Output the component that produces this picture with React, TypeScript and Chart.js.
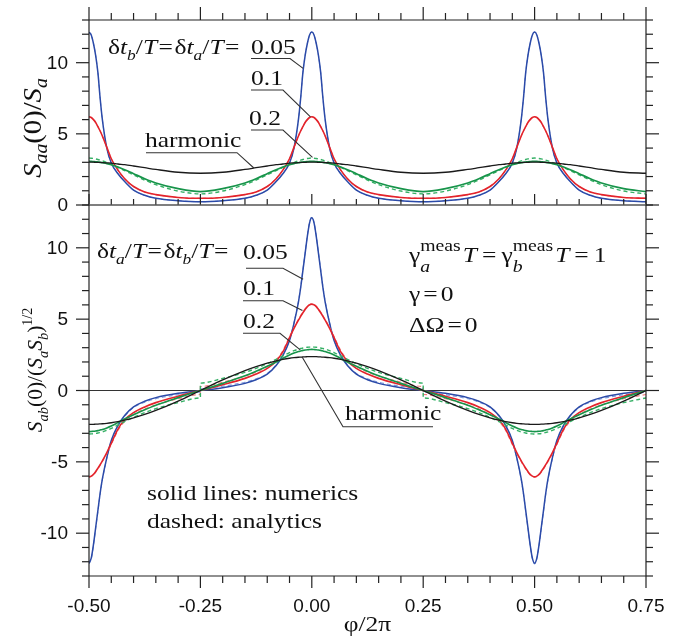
import React, { useEffect, useRef } from "react";
import { Chart, registerables } from "chart.js";
Chart.register(...registerables);

// distance from the nearest peak (in φ/2π) at which each profile was read
const D = [0, 0.005, 0.01, 0.015, 0.02, 0.025, 0.03, 0.04, 0.05, 0.065, 0.08, 0.1, 0.125, 0.15, 0.2, 0.25];

// top panel S_aa(0)/S_a : profile vs distance from a peak (peaks at -0.5, 0, 0.5)
const TOP_BLUE = [12.15, 11.95, 11.35, 10.5, 9.3, 7.5, 6.0, 4.0, 2.95, 2.2, 1.65, 1.05, 0.68, 0.47, 0.3, 0.23];
const TOP_RED = [6.2, 6.15, 6.0, 5.8, 5.5, 5.2, 4.85, 4.05, 3.25, 2.45, 1.85, 1.3, 0.92, 0.73, 0.53, 0.47];
const TOP_GREEN = [3.06, 3.06, 3.05, 3.04, 3.02, 3.0, 2.97, 2.91, 2.83, 2.67, 2.48, 2.2, 1.85, 1.55, 1.15, 0.94];
const TOP_GREEN_DASH = [3.3, 3.29, 3.27, 3.24, 3.2, 3.15, 3.1, 2.98, 2.85, 2.64, 2.42, 2.12, 1.75, 1.43, 0.98, 0.78];
const TOP_HARM = [3.01, 3.01, 3.01, 3.0, 3.0, 2.99, 2.98, 2.96, 2.94, 2.88, 2.83, 2.74, 2.62, 2.5, 2.3, 2.23];

// bottom panel S_ab(0)/(S_a S_b)^1/2 : profile vs distance from the peak at 0 (sign flips past ±0.25)
const BOT_BLUE = [12.1, 11.75, 10.8, 9.6, 8.4, 7.2, 6.2, 4.7, 3.5, 2.45, 1.75, 1.15, 0.75, 0.5, 0.2, 0];
const BOT_BLUE_DASH = [12.15, 11.8, 10.85, 9.65, 8.45, 7.25, 6.25, 4.75, 3.55, 2.5, 1.8, 1.2, 0.82, 0.58, 0.3, 0.12];
const BOT_RED = [6.05, 6.0, 5.88, 5.68, 5.45, 5.2, 4.93, 4.35, 3.7, 2.7, 2.05, 1.55, 1.15, 0.85, 0.4, 0];
const BOT_RED_DASH = [6.08, 6.03, 5.91, 5.72, 5.5, 5.25, 4.98, 4.42, 3.78, 2.8, 2.15, 1.68, 1.3, 1.02, 0.58, 0.28];
const BOT_GREEN = [2.88, 2.87, 2.86, 2.84, 2.81, 2.77, 2.73, 2.62, 2.49, 2.25, 2.0, 1.7, 1.35, 1.03, 0.5, 0];
const BOT_GREEN_DASH = [3.05, 3.04, 3.03, 3.01, 2.98, 2.94, 2.9, 2.79, 2.66, 2.42, 2.18, 1.88, 1.55, 1.27, 0.85, 0.52];
const BOT_HARM = [2.38, 2.38, 2.37, 2.36, 2.35, 2.34, 2.33, 2.3, 2.26, 2.18, 2.08, 1.92, 1.68, 1.4, 0.74, 0];

// axes
const X_MIN = -0.5;
const X_MAX = 0.75;
const X_MAJOR = [-0.5, -0.25, 0, 0.25, 0.5, 0.75];
const X_LABELS = ["-0.50", "-0.25", "0.00", "0.25", "0.50", "0.75"];
const X_MINOR_STEP = 0.05;
const TOP_RANGE = [0, 13];
const TOP_MAJOR = [0, 5, 10];
const TOP_LABELS = ["0", "5", "10"];
const BOT_RANGE = [-13, 13];
const BOT_MAJOR = [-10, -5, 0, 5, 10];
const BOT_LABELS = ["-10", "-5", "0", "5", "10"];

const BLUE = "#2b4aa8";
const BLUE_D = "#7d98dc";
const RED = "#e3232b";
const RED_D = "#f47c7c";
const GREEN = "#17944a";
const GREEN_D = "#35b065";
const BLACK = "#1a1a1a";
const FRAME = "#222";
const SERIF = '"Liberation Serif","Times New Roman",serif';
const SANS = '"Liberation Sans",Arial,sans-serif';
const BASE = 22;
const SX = 1.16;

function evenSeries(P: number[]) {
  const n = P.length;
  const pts: { x: number; y: number }[] = [];
  for (let i = 0; i < n; i++) pts.push({ x: -0.5 + D[i], y: P[i] });
  for (let i = n - 2; i >= 0; i--) pts.push({ x: -D[i], y: P[i] });
  for (let i = 1; i < n; i++) pts.push({ x: D[i], y: P[i] });
  for (let i = n - 2; i >= 0; i--) pts.push({ x: 0.5 - D[i], y: P[i] });
  for (let i = 1; i < n; i++) pts.push({ x: 0.5 + D[i], y: P[i] });
  return pts;
}

function oddSeries(P: number[]) {
  const n = P.length;
  const last = P[n - 1];
  const pts: { x: number; y: number }[] = [];
  for (let i = 0; i < n; i++) pts.push({ x: -0.5 + D[i], y: -P[i] });
  if (last !== 0) pts.push({ x: -0.25, y: last });
  for (let i = n - 2; i >= 0; i--) pts.push({ x: -D[i], y: P[i] });
  for (let i = 1; i < n; i++) pts.push({ x: D[i], y: P[i] });
  if (last !== 0) pts.push({ x: 0.25, y: -last });
  for (let i = n - 2; i >= 0; i--) pts.push({ x: 0.5 - D[i], y: -P[i] });
  for (let i = 1; i < n; i++) pts.push({ x: 0.5 + D[i], y: -P[i] });
  return pts;
}

function ds(data: any[], color: string, width: number, dash: number[] = []) {
  return {
    data,
    borderColor: color,
    borderWidth: width,
    borderDash: dash,
    pointRadius: 0,
    fill: false,
    cubicInterpolationMode: "monotone",
  };
}

type Seg = { t: string; it?: boolean; s?: number; dy?: number; dx?: number; hold?: boolean };

function drawRich(ctx: CanvasRenderingContext2D, segs: Seg[], x: number, y: number, base: number, sx: number, align = "left") {
  const font = (g: Seg) => `${g.it ? "italic " : ""}${g.s ?? base}px ${SERIF}`;
  let w = 0;
  let held = 0;
  for (const g of segs) {
    ctx.font = font(g);
    const gw = ctx.measureText(g.t).width * sx + (g.dx ?? 0);
    if (g.hold) { held = Math.max(held, gw); continue; }
    w += Math.max(gw, held);
    held = 0;
  }
  let cx = align === "center" ? x - w / 2 : align === "right" ? x - w : x;
  held = 0;
  ctx.textAlign = "left";
  ctx.textBaseline = "alphabetic";
  for (const g of segs) {
    ctx.font = font(g);
    const tw = ctx.measureText(g.t).width * sx;
    ctx.save();
    ctx.translate(cx + (g.dx ?? 0), y + (g.dy ?? 0));
    ctx.scale(sx, 1);
    ctx.fillText(g.t, 0, 0);
    ctx.restore();
    const gw = tw + (g.dx ?? 0);
    if (g.hold) { held = Math.max(held, gw); continue; }
    cx += Math.max(gw, held);
    held = 0;
  }
}

function seg(ctx: CanvasRenderingContext2D, x1: number, y1: number, x2: number, y2: number) {
  ctx.beginPath();
  ctx.moveTo(x1, y1);
  ctx.lineTo(x2, y2);
  ctx.stroke();
}

function xTicks() {
  const out: number[] = [];
  const n = Math.round((X_MAX - X_MIN) / X_MINOR_STEP);
  for (let k = 0; k <= n; k++) out.push(Math.round((X_MIN + k * X_MINOR_STEP) * 1000) / 1000);
  return out;
}
const isMajor = (v: number, list: number[]) => list.some((m) => Math.abs(m - v) < 1e-9);

type Note = { segs: Seg[]; x: number; y: number; ul?: [number, number, number]; end?: [number, number]; fromStart?: boolean };

function drawNotes(ctx: CanvasRenderingContext2D, notes: Note[], xs: any, ys: any) {
  for (const n of notes) {
    ctx.fillStyle = "#111";
    drawRich(ctx, n.segs, n.x, n.y, BASE, SX);
    if (n.ul) {
      ctx.strokeStyle = "#333";
      ctx.lineWidth = 1.1;
      const [x1, x2, uy] = n.ul;
      ctx.beginPath();
      if (n.end) {
        const ex = xs.getPixelForValue(n.end[0]);
        const ey = ys.getPixelForValue(n.end[1]);
        if (n.fromStart) {
          ctx.moveTo(x2, uy);
          ctx.lineTo(x1, uy);
          ctx.lineTo(ex, ey);
        } else {
          ctx.moveTo(x1, uy);
          ctx.lineTo(x2, uy);
          ctx.lineTo(ex, ey);
        }
      } else {
        ctx.moveTo(x1, uy);
        ctx.lineTo(x2, uy);
      }
      ctx.stroke();
    }
  }
}

function yAxisTicks(ctx: CanvasRenderingContext2D, a: any, ys: any, range: number[], major: number[], labels: string[]) {
  ctx.strokeStyle = FRAME;
  ctx.lineWidth = 1.2;
  for (let v = range[0]; v <= range[1]; v++) {
    const py = ys.getPixelForValue(v);
    const L = isMajor(v, major) ? 13 : 7;
    seg(ctx, a.left - L, py, a.left, py);
    seg(ctx, a.right, py, a.right + L, py);
  }
  ctx.fillStyle = "#111";
  ctx.font = `19px ${SANS}`;
  ctx.textAlign = "right";
  ctx.textBaseline = "middle";
  major.forEach((v, i) => ctx.fillText(labels[i], a.left - 21, ys.getPixelForValue(v) + 1));
}

const eq = (t: string): Seg => ({ t, dx: 1.5 });

const topDecor = {
  id: "topDecor",
  afterDraw(chart: any) {
    const { ctx, chartArea: a } = chart;
    const xs = chart.scales.x;
    const ys = chart.scales.y;
    ctx.save();
    ctx.strokeStyle = FRAME;
    ctx.lineWidth = 1.2;
    seg(ctx, a.left, a.top, a.right, a.top);
    seg(ctx, a.left, a.top, a.left, a.bottom);
    seg(ctx, a.right, a.top, a.right, a.bottom);
    for (const v of xTicks()) {
      const px = xs.getPixelForValue(v);
      const mj = isMajor(v, X_MAJOR);
      seg(ctx, px, a.top, px, a.top - (mj ? 13 : 7));
      seg(ctx, px, a.bottom, px, a.bottom - (mj ? 11 : 6));
    }
    yAxisTicks(ctx, a, ys, TOP_RANGE, TOP_MAJOR, TOP_LABELS);
    ctx.strokeStyle = "#555";
    ctx.lineWidth = 1.6;
    seg(ctx, a.left, a.bottom, a.right, a.bottom);

    // y title
    ctx.save();
    ctx.fillStyle = "#111";
    ctx.translate(41, 128);
    ctx.rotate(-Math.PI / 2);
    drawRich(ctx, [
      { t: "S", it: true },
      { t: "aa", it: true, s: 18, dy: 6 },
      { t: "(0)/" },
      { t: "S", it: true },
      { t: "a", it: true, s: 18, dy: 6 },
    ], 0, 0, 26, 1.1, "center");
    ctx.restore();

    const notes: Note[] = [
      {
        segs: [
          { t: "δ" }, { t: "t", it: true }, { t: "b", it: true, s: 15, dy: 6 }, { t: "/" }, { t: "T", it: true }, eq("="),
          { t: "δ", dx: 1.5 }, { t: "t", it: true }, { t: "a", it: true, s: 15, dy: 6 }, { t: "/" }, { t: "T", it: true }, eq("="),
        ],
        x: 108, y: 54,
      },
      { segs: [{ t: "0.05" }], x: 251, y: 53.5, ul: [251, 290, 58.5], end: [-0.0195, 9.6] },
      { segs: [{ t: "0.1" }], x: 251, y: 85, ul: [251, 283, 90], end: [-0.003, 6.2] },
      { segs: [{ t: "0.2" }], x: 249, y: 125, ul: [251, 283, 130], end: [0.0015, 3.35] },
      { segs: [{ t: "harmonic" }], x: 145, y: 146.7, ul: [146, 237, 152.7], end: [-0.13, 2.6] },
    ];
    drawNotes(ctx, notes, xs, ys);
    ctx.restore();
  },
};

const botDecor = {
  id: "botDecor",
  beforeDatasetsDraw(chart: any) {
    const { ctx, chartArea: a } = chart;
    const ys = chart.scales.y;
    ctx.save();
    ctx.strokeStyle = "#333";
    ctx.lineWidth = 1.2;
    const py = ys.getPixelForValue(0);
    seg(ctx, a.left, py, a.right, py);
    ctx.restore();
  },
  afterDraw(chart: any) {
    const { ctx, chartArea: a } = chart;
    const xs = chart.scales.x;
    const ys = chart.scales.y;
    ctx.save();
    ctx.strokeStyle = FRAME;
    ctx.lineWidth = 1.2;
    seg(ctx, a.left, a.bottom, a.right, a.bottom);
    seg(ctx, a.left, a.top, a.left, a.bottom);
    seg(ctx, a.right, a.top, a.right, a.bottom);
    for (const v of xTicks()) {
      const px = xs.getPixelForValue(v);
      const mj = isMajor(v, X_MAJOR);
      seg(ctx, px, a.bottom, px, a.bottom + (mj ? 12 : 7));
    }
    yAxisTicks(ctx, a, ys, BOT_RANGE, BOT_MAJOR, BOT_LABELS);

    ctx.fillStyle = "#111";
    ctx.font = `19px ${SANS}`;
    ctx.textAlign = "center";
    ctx.textBaseline = "alphabetic";
    X_MAJOR.forEach((v, i) => ctx.fillText(X_LABELS[i], xs.getPixelForValue(v), 612));
    drawRich(ctx, [{ t: "φ/2π" }], (a.left + a.right) / 2, 631, BASE, SX, "center");

    // y title
    ctx.save();
    ctx.translate(42, 370);
    ctx.rotate(-Math.PI / 2);
    drawRich(ctx, [
      { t: "S", it: true },
      { t: "ab", it: true, s: 14.5, dy: 6 },
      { t: "(0)/(" },
      { t: "S", it: true },
      { t: "a", it: true, s: 14.5, dy: 6 },
      { t: "S", it: true },
      { t: "b", it: true, s: 14.5, dy: 6 },
      { t: ")" },
      { t: "1/2", s: 14, dy: -10 },
    ], 0, 0, 21.5, 1.0, "center");
    ctx.restore();

    const notes: Note[] = [
      {
        segs: [
          { t: "δ" }, { t: "t", it: true }, { t: "a", it: true, s: 15, dy: 6 }, { t: "/" }, { t: "T", it: true }, eq("="),
          { t: "δ", dx: 1.5 }, { t: "t", it: true }, { t: "b", it: true, s: 15, dy: 6 }, { t: "/" }, { t: "T", it: true }, eq("="),
        ],
        x: 97, y: 258,
      },
      { segs: [{ t: "0.05" }], x: 243, y: 259, ul: [246, 283, 268.3], end: [-0.0195, 7.8] },
      { segs: [{ t: "0.1" }], x: 243, y: 295, ul: [243, 283, 300.7], end: [-0.021, 5.6] },
      { segs: [{ t: "0.2" }], x: 243, y: 328, ul: [243, 280, 333.3], end: [-0.026, 2.85] },
      { segs: [{ t: "harmonic" }], x: 345, y: 420, ul: [343, 433, 426.7], end: [-0.022, 2.36], fromStart: true },
      {
        segs: [
          { t: "γ" }, { t: "a", it: true, s: 17, dy: 10, hold: true }, { t: "meas", s: 17, dy: -11 },
          { t: "T", it: true, dx: 2 }, { t: "=", dx: 5 },
          { t: "γ", dx: 5 }, { t: "b", it: true, s: 17, dy: 10, hold: true }, { t: "meas", s: 17, dy: -11 },
          { t: "T", it: true, dx: 2 }, { t: "=", dx: 5 }, { t: "1", dx: 5 },
        ],
        x: 409, y: 261.7,
      },
      { segs: [{ t: "γ" }, { t: "=", dx: 3 }, { t: "0", dx: 3 }], x: 409, y: 301 },
      { segs: [{ t: "ΔΩ" }, { t: "=", dx: 3 }, { t: "0", dx: 3 }], x: 409, y: 331.7 },
      { segs: [{ t: "solid lines: numerics" }], x: 147, y: 500 },
      { segs: [{ t: "dashed: analytics" }], x: 147, y: 528.3 },
    ];
    drawNotes(ctx, notes, xs, ys);
    ctx.restore();
  },
};

function baseOptions(range: number[], padding: any) {
  return {
    animation: false,
    responsive: false,
    devicePixelRatio: 1,
    events: [],
    layout: { padding },
    plugins: { legend: { display: false }, tooltip: { enabled: false }, title: { display: false } },
    scales: {
      x: { type: "linear", min: X_MIN, max: X_MAX, display: false },
      y: { type: "linear", min: range[0], max: range[1], display: false },
    },
  };
}

export default function App() {
  const topRef = useRef<HTMLCanvasElement>(null);
  const botRef = useRef<HTMLCanvasElement>(null);

  useEffect(() => {
    const top = new Chart(topRef.current as HTMLCanvasElement, {
      type: "line",
      data: {
        datasets: [
          ds(evenSeries(TOP_HARM), BLACK, 1.3),
          ds(evenSeries(TOP_GREEN), GREEN, 1.7),
          ds(evenSeries(TOP_GREEN_DASH), GREEN_D, 1.4, [4, 3]),
          ds(evenSeries(TOP_RED), RED, 1.6),
          ds(evenSeries(TOP_RED), RED_D, 1.1, [3, 3]),
          ds(evenSeries(TOP_BLUE), BLUE, 1.5),
          ds(evenSeries(TOP_BLUE), BLUE_D, 1.0, [3, 3]),
        ] as any,
      },
      options: baseOptions(TOP_RANGE, { left: 89, right: 43, top: 20, bottom: 435 }) as any,
      plugins: [topDecor as any],
    });
    const bot = new Chart(botRef.current as HTMLCanvasElement, {
      type: "line",
      data: {
        datasets: [
          ds(oddSeries(BOT_HARM), BLACK, 1.3),
          ds(oddSeries(BOT_GREEN), GREEN, 1.6),
          ds(oddSeries(BOT_GREEN_DASH), GREEN_D, 1.4, [4, 3]),
          ds(oddSeries(BOT_RED), RED, 1.6),
          ds(oddSeries(BOT_RED_DASH), RED_D, 1.2, [4, 3]),
          ds(oddSeries(BOT_BLUE), BLUE, 1.5),
          ds(oddSeries(BOT_BLUE_DASH), BLUE_D, 1.1, [4, 3]),
        ] as any,
      },
      options: baseOptions(BOT_RANGE, { left: 89, right: 43, top: 205, bottom: 64 }) as any,
      plugins: [botDecor as any],
    });
    return () => {
      top.destroy();
      bot.destroy();
    };
  }, []);

  const cs: React.CSSProperties = { position: "absolute", left: 0, top: 0, width: 689, height: 640 };
  return (
    <div style={{ position: "absolute", left: 0, top: 0, width: 689, height: 640, background: "#fff" }}>
      <canvas ref={topRef} width={689} height={640} style={cs} />
      <canvas ref={botRef} width={689} height={640} style={cs} />
    </div>
  );
}
